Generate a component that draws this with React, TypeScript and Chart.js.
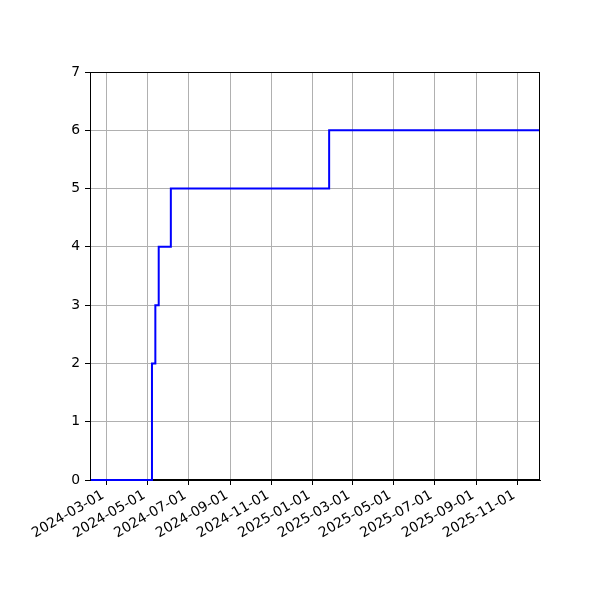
import React, { useEffect, useRef } from "react";
import { Chart, registerables } from "chart.js";

Chart.register(...registerables);

const stepDates = ["2024-02-06", "2024-05-08", "2024-05-13", "2024-05-18", "2024-06-05", "2025-01-26", "2025-12-05"];
const stepValues = [0, 2, 3, 4, 5, 6, 6];
const xTickLabels = [
  "2024-03-01", "2024-05-01", "2024-07-01", "2024-09-01", "2024-11-01", "2025-01-01",
  "2025-03-01", "2025-05-01", "2025-07-01", "2025-09-01", "2025-11-01",
];
const yMin = 0;
const yMax = 7;

const ts = (s: string) => new Date(s + "T00:00:00Z").getTime();

const boxPlugin = {
  id: "box",
  beforeDatasetsDraw(chart: any) {
    const { ctx, chartArea } = chart;
    ctx.save();
    ctx.strokeStyle = "#000";
    ctx.lineWidth = 1;
    ctx.strokeRect(chartArea.left + 0.5, chartArea.top + 0.5, chartArea.right - chartArea.left - 1, chartArea.bottom - chartArea.top - 1);
    ctx.restore();
  },
};

export default function App() {
  const ref = useRef<HTMLCanvasElement>(null);
  useEffect(() => {
    const font = { family: "'DejaVu Sans'", size: 13.9 };
    const tickVals = xTickLabels.map(ts);
    const chart = new Chart(ref.current!, {
      type: "line",
      data: {
        datasets: [
          {
            data: stepDates.map((d, i) => ({ x: ts(d), y: stepValues[i] })),
            borderColor: "#0000ff",
            borderWidth: 2,
            pointRadius: 0,
            stepped: "before",
            fill: false,
            clip: { left: -1, right: -1, top: 2, bottom: 2 },
          },
        ],
      },
      plugins: [boxPlugin],
      options: {
        animation: false,
        responsive: false,
        devicePixelRatio: 1,
        layout: { padding: { top: 72, right: 60, left: 0, bottom: 0 } },
        plugins: { legend: { display: false }, tooltip: { enabled: false } },
        scales: {
          x: {
            type: "linear",
            min: ts(stepDates[0]),
            max: ts(stepDates[stepDates.length - 1]),
            afterBuildTicks: (scale: any) => {
              scale.ticks = tickVals.map((v) => ({ value: v }));
            },
            afterFit: (scale: any) => {
              scale.height = 120;
            },
            grid: { color: "#b0b0b0", lineWidth: 1, tickColor: "#000", tickLength: 5, drawTicks: true },
            border: { color: "#000", width: 1 },
            ticks: {
              autoSkip: false,
              minRotation: 30,
              maxRotation: 30,
              color: "#000",
              font,
              padding: 2,
              labelOffset: -3,
              callback: (_v: any, i: number) => xTickLabels[i],
            },
          },
          y: {
            min: yMin,
            max: yMax,
            afterFit: (scale: any) => {
              scale.width = 90;
            },
            grid: { color: "#b0b0b0", lineWidth: 1, tickColor: "#000", tickLength: 5 },
            border: { color: "#000", width: 1 },
            ticks: { stepSize: 1, color: "#000", font, padding: 5 },
          },
        },
      },
    });
    return () => chart.destroy();
  }, []);
  return (
    <canvas
      ref={ref}
      width={600}
      height={600}
      style={{ position: "fixed", left: 0, top: 0, width: 600, height: 600, background: "#fff" }}
    />
  );
}
